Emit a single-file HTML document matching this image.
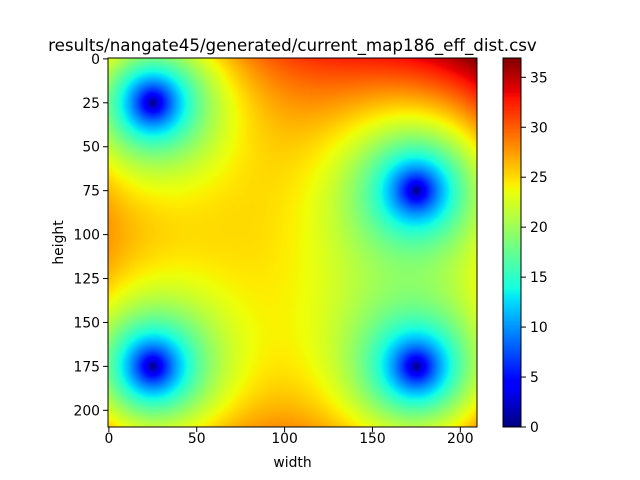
<!DOCTYPE html>
<html><head><meta charset="utf-8">
<style>
body{margin:0;background:#fff;}
#fig{position:relative;width:640px;height:480px;font-family:"DejaVu Sans","Liberation Sans",sans-serif;color:#000;}
</style></head>
<body>
<div id="fig">
<svg id="svg" width="640" height="480" style="position:absolute;left:0;top:0"></svg>
</div>
<script>
// data: current source positions (x, y) in grid units
const srcX = [25, 175, 25, 175];
const srcY = [25, 75, 175, 175];
const gridW = 210, gridH = 210;
const xTicks = [0, 50, 100, 150, 200];
const yTicks = [0, 25, 50, 75, 100, 125, 150, 175, 200];
const cbTicks = [0, 5, 10, 15, 20, 25, 30, 35];
const titleText = "results/nangate45/generated/current_map186_eff_dist.csv";

const AX = {l:108, t:58, w:369, h:369};
const CB = {l:503, t:58, w:18, h:369};
const xs = v => AX.l + (v + 0.5) * AX.w / gridW;
const ys = v => AX.t + (v + 0.5) * AX.h / gridH;
const FS = 13.9;

function jet(t){
  t = Math.max(0, Math.min(1, t));
  function seg(pts){for(let i=1;i<pts.length;i++){if(t<=pts[i][0]){const a=pts[i-1],b=pts[i];return a[1]+(b[1]-a[1])*(t-a[0])/(b[0]-a[0]);}}return pts[pts.length-1][1];}
  return [seg([[0,0],[0.35,0],[0.66,1],[0.89,1],[1,0.5]]),
          seg([[0,0],[0.125,0],[0.375,1],[0.64,1],[0.91,0],[1,0]]),
          seg([[0,0.5],[0.11,1],[0.34,1],[0.65,0],[1,0]])].map(v=>Math.round(v*255));
}

const vals = new Float32Array(gridW*gridH);
let vmax = 0;
for (let j=0;j<gridH;j++) for (let i=0;i<gridW;i++){
  let s = 0, zero=false;
  for (let k=0;k<srcX.length;k++){const d=Math.hypot(i-srcX[k], j-srcY[k]); if(d===0){zero=true;break;} s+=1/d;}
  const v = zero?0:1/s; vals[j*gridW+i]=v; if(v>vmax) vmax=v;
}

const fig = document.getElementById('fig');
const cv = document.createElement('canvas');
cv.width = gridW; cv.height = gridH;
cv.style.cssText = `position:absolute;left:${AX.l}px;top:${AX.t}px;width:${AX.w}px;height:${AX.h}px;`;


fig.insertBefore(cv, fig.firstChild);
const ctx = cv.getContext('2d');
const img = ctx.createImageData(gridW, gridH);
for (let p=0;p<gridW*gridH;p++){const c=jet(vals[p]/vmax); img.data[p*4]=c[0]; img.data[p*4+1]=c[1]; img.data[p*4+2]=c[2]; img.data[p*4+3]=255;}
ctx.putImageData(img,0,0);

const cb = document.createElement('canvas');
cb.width = 1; cb.height = CB.h;
cb.style.cssText = `position:absolute;left:${CB.l}px;top:${CB.t}px;width:${CB.w}px;height:${CB.h}px;`;


fig.insertBefore(cb, fig.firstChild);
const cctx = cb.getContext('2d');
for (let y=0;y<CB.h;y++){const c=jet(1-(y+0.5)/CB.h); cctx.fillStyle=`rgb(${c[0]},${c[1]},${c[2]})`; cctx.fillRect(0,y,1,1);}

const svg = document.getElementById('svg');
const NS = 'http://www.w3.org/2000/svg';
function mk(tag, attrs, text){const e=document.createElementNS(NS,tag); for(const k in attrs) e.setAttribute(k,attrs[k]); if(text!==undefined) e.textContent=text; svg.appendChild(e); return e;}

let e = mk('rect',{x:AX.l,y:AX.t,width:AX.w,height:AX.h,fill:'none',stroke:'#000','stroke-width':1});


e = mk('rect',{x:CB.l,y:CB.t,width:CB.w,height:CB.h,fill:'none',stroke:'#000','stroke-width':1});



xTicks.forEach(v=>{
  const x = xs(v);
  let t = mk('line',{x1:x,x2:x,y1:AX.t+AX.h,y2:AX.t+AX.h+5,stroke:'#000','stroke-width':1});
  
  
  t = mk('text',{x:x,y:AX.t+AX.h+16,'text-anchor':'middle','font-size':FS}, String(v));
  
  
});
yTicks.forEach(v=>{
  const y = ys(v);
  let t = mk('line',{x1:AX.l-5,x2:AX.l,y1:y,y2:y,stroke:'#000','stroke-width':1});
  
  
  t = mk('text',{x:AX.l-8,y:y+5,'text-anchor':'end','font-size':FS}, String(v));
  
  
});
cbTicks.forEach(v=>{
  const y = CB.t + CB.h - v/vmax*CB.h;
  let t = mk('line',{x1:CB.l+CB.w,x2:CB.l+CB.w+5,y1:y,y2:y,stroke:'#000','stroke-width':1});
  
  
  t = mk('text',{x:CB.l+CB.w+9,y:y+5,'font-size':FS}, String(v));
  
  
});

e = mk('text',{x:AX.l+AX.w/2,y:467,'text-anchor':'middle','font-size':FS},'width');


e = mk('text',{x:63,y:AX.t+AX.h/2,'text-anchor':'middle','font-size':FS,transform:`rotate(-90 63 ${AX.t+AX.h/2})`},'height');


e = mk('text',{x:AX.l+AX.w/2,y:51,'text-anchor':'middle','font-size':16.7}, titleText);


</script>
</body></html>
